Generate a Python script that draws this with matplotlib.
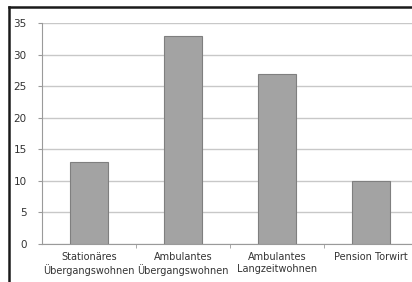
import matplotlib
matplotlib.use("Agg")
import matplotlib.pyplot as plt
from matplotlib.lines import Line2D

# Daten
kategorien = ["Stationäres\nÜbergangswohnen", "Ambulantes\nÜbergangswohnen",
              "Ambulantes\nLangzeitwohnen", "Pension Torwirt"]
werte = [13, 33, 27, 10]
y_ticks = [0, 5, 10, 15, 20, 25, 30, 35]

W, H = 412, 282
fig = plt.figure(figsize=(W / 100, H / 100), dpi=100)
fig.patch.set_facecolor("white")

# Achse reicht rechts etwas über das Bild hinaus (wie im abgeschnittenen Original)
ax = fig.add_axes([42 / W, 38 / H, 376 / W, 221 / H])

x = range(len(werte))
ax.bar(x, werte, width=0.4, color="#a3a3a3", edgecolor="#7f7f7f", linewidth=0.8, zorder=3)

ax.set_xlim(-0.5, len(werte) - 0.5)
ax.set_ylim(0, 35)
ax.set_yticks(y_ticks)
ax.yaxis.grid(True, color="#c8c8c8", linewidth=1.0, zorder=0)

ax.set_xticks(list(x))
ax.set_xticklabels(kategorien, fontsize=7, color="#333333", linespacing=1.2)
ax.tick_params(axis="x", which="major", length=0, pad=6)
ax.set_xticks([0.5, 1.5, 2.5], minor=True)
ax.tick_params(axis="x", which="minor", length=3, color="#9a9a9a", direction="out")
ax.tick_params(axis="y", length=3, color="#9a9a9a", labelsize=7.5, labelcolor="#333333", pad=8)

for s in ["top", "right"]:
    ax.spines[s].set_visible(False)
for s in ["left", "bottom"]:
    ax.spines[s].set_color("#9a9a9a")
    ax.spines[s].set_linewidth(0.8)

# schwarzer Rahmen nur links und oben (Rest abgeschnitten)
x0, y0 = 8.5 / W, 1 - 6.5 / H
fig.add_artist(Line2D([x0, x0], [0, y0], transform=fig.transFigure, color="#1a1a1a", linewidth=1.8))
fig.add_artist(Line2D([x0, 1.0], [y0, y0], transform=fig.transFigure, color="#1a1a1a", linewidth=1.8))

fig.savefig("out.png", dpi=100)
